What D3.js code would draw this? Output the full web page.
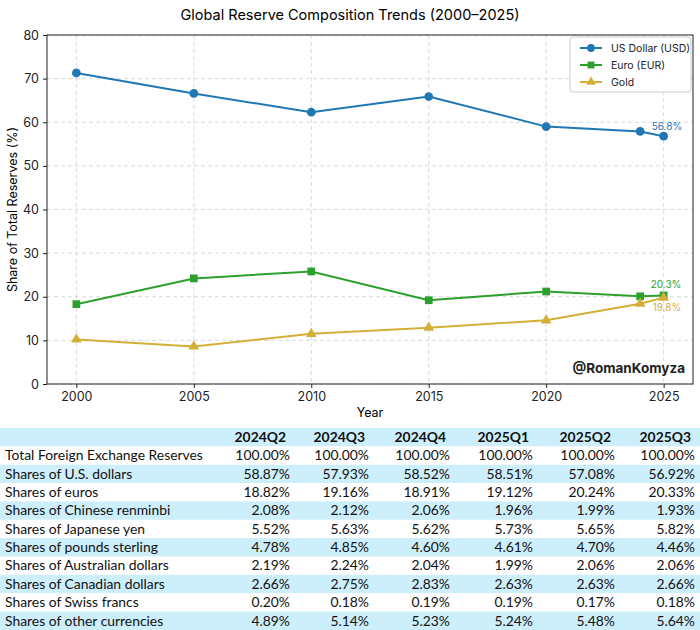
<!DOCTYPE html>
<html>
<head>
<meta charset="utf-8">
<script src="https://cdn.jsdelivr.net/npm/d3@7"></script>
<style>
  body { margin: 0; background: #fff; }
  svg { display: block; }
</style>
</head>
<body>
<div id="chart"></div>
<script>
// chart data
var years = [2000, 2005, 2010, 2015, 2020, 2024, 2025];
var usd = [71.3, 66.6, 62.3, 65.9, 59.0, 57.9, 56.8];
var eur = [18.3, 24.2, 25.8, 19.2, 21.2, 20.1, 20.3];
var gold = [10.2, 8.6, 11.5, 12.9, 14.6, 18.4, 19.8];
var xTicks = [2000, 2005, 2010, 2015, 2020, 2025];
var yTicks = [0, 10, 20, 30, 40, 50, 60, 70, 80];

// table data
var quarters = ["2024Q2", "2024Q3", "2024Q4", "2025Q1", "2025Q2", "2025Q3"];
var rowLabels = [
  "Total Foreign Exchange Reserves",
  "Shares of U.S. dollars",
  "Shares of euros",
  "Shares of Chinese renminbi",
  "Shares of Japanese yen",
  "Shares of pounds sterling",
  "Shares of Australian dollars",
  "Shares of Canadian dollars",
  "Shares of Swiss francs",
  "Shares of other currencies"
];
var rowValues = [
  ["100.00%", "100.00%", "100.00%", "100.00%", "100.00%", "100.00%"],
  ["58.87%", "57.93%", "58.52%", "58.51%", "57.08%", "56.92%"],
  ["18.82%", "19.16%", "18.91%", "19.12%", "20.24%", "20.33%"],
  ["2.08%", "2.12%", "2.06%", "1.96%", "1.99%", "1.93%"],
  ["5.52%", "5.63%", "5.62%", "5.73%", "5.65%", "5.82%"],
  ["4.78%", "4.85%", "4.60%", "4.61%", "4.70%", "4.46%"],
  ["2.19%", "2.24%", "2.04%", "1.99%", "2.06%", "2.06%"],
  ["2.66%", "2.75%", "2.83%", "2.63%", "2.63%", "2.66%"],
  ["0.20%", "0.18%", "0.19%", "0.19%", "0.17%", "0.18%"],
  ["4.89%", "5.14%", "5.23%", "5.24%", "5.48%", "5.64%"]
];

var series = [
  {name: "US Dollar (USD)", values: usd, color: "#1f77b4", marker: "circle", label: "56.8%"},
  {name: "Euro (EUR)", values: eur, color: "#2ca02c", marker: "square", label: "20.3%"},
  {name: "Gold", values: gold, color: "#d4af37", marker: "triangle", label: "19.8%"}
];

var W = 700, H = 630;
var font = "Inter, 'Open Sans', sans-serif";
var tfont = "Lato, 'Open Sans', sans-serif";

svg = d3.select("#chart").append("svg")
  .attr("width", W).attr("height", H)
  .attr("viewBox", `0 0 ${W} ${H}`);

var plot = {left: 47, right: 693, top: 35, bottom: 384};

var x = d3.scaleLinear().domain([1998.75, 2026.25]).range([plot.left, plot.right]);
var y = d3.scaleLinear().domain([0, 80]).range([plot.bottom, plot.top]);

//title
svg.append("text")
  .attr("x", 350).attr("y", 20)
  .attr("text-anchor", "middle")
  .style("font-family", font).style("font-size", "14.5px")
  .text("Global Reserve Composition Trends (2000\u20132025)");

//grid
var g = svg.append("g");
g.selectAll("line.gx").data(xTicks).enter().append("line")
  .attr("x1", d => x(d)).attr("x2", d => x(d))
  .attr("y1", plot.top).attr("y2", plot.bottom)
  .attr("stroke", "#d0d0d0").attr("stroke-dasharray", "4,3").attr("stroke-width", 0.8);
g.selectAll("line.gy").data(yTicks).enter().append("line")
  .attr("y1", d => y(d)).attr("y2", d => y(d))
  .attr("x1", plot.left).attr("x2", plot.right)
  .attr("stroke", "#d0d0d0").attr("stroke-dasharray", "4,3").attr("stroke-width", 0.8);

//axes
var xAxis = svg.append("g")
  .attr("transform", `translate(0,${plot.bottom})`)
  .call(d3.axisBottom(x).tickValues(xTicks).tickFormat(d3.format("d")).tickSize(4).tickSizeOuter(0).tickPadding(4));
var yAxis = svg.append("g")
  .attr("transform", `translate(${plot.left},0)`)
  .call(d3.axisLeft(y).tickValues(yTicks).tickSize(4).tickSizeOuter(0).tickPadding(4));
[xAxis, yAxis].forEach(function(a){
  a.select(".domain").remove();
  a.selectAll("text").style("font-family", font).style("font-size", "12.5px").attr("fill", "#222");
  a.selectAll("line").attr("stroke", "#222");
});

//frame
svg.append("rect")
  .attr("x", plot.left).attr("y", plot.top)
  .attr("width", plot.right - plot.left).attr("height", plot.bottom - plot.top)
  .attr("fill", "none").attr("stroke", "#222").attr("stroke-width", 1);

svg.append("text")
  .attr("x", (plot.left + plot.right) / 2).attr("y", 417)
  .attr("text-anchor", "middle")
  .style("font-family", font).style("font-size", "12.5px")
  .text("Year");
svg.append("text")
  .attr("transform", `translate(17,${(plot.top + plot.bottom) / 2}) rotate(-90)`)
  .attr("text-anchor", "middle")
  .style("font-family", font).style("font-size", "12.5px")
  .text("Share of Total Reserves (%)");

//lines
var line = d3.line().x((d, i) => x(years[i])).y(d => y(d));
var symbols = {circle: d3.symbolCircle, square: d3.symbolSquare, triangle: d3.symbolTriangle};
var symSize = {circle: 60, square: 60, triangle: 50};

series.forEach(function(s){
  svg.append("path")
    .attr("d", line(s.values))
    .attr("fill", "none").attr("stroke", s.color).attr("stroke-width", 2);
  svg.selectAll(null).data(s.values).enter().append("path")
    .attr("transform", (d, i) => `translate(${x(years[i])},${y(d)})`)
    .attr("d", d3.symbol().type(symbols[s.marker]).size(symSize[s.marker]))
    .attr("fill", s.color);
});

//end labels
var last = years.length - 1;
svg.append("text").attr("x", x(years[last]) - 12).attr("y", y(usd[last]) - 6)
  .style("font-family", font).style("font-size", "10px").attr("fill", series[0].color)
  .text(series[0].label);
svg.append("text").attr("x", x(years[last]) - 13).attr("y", y(eur[last]) - 7)
  .style("font-family", font).style("font-size", "10px").attr("fill", series[1].color)
  .text(series[1].label);
svg.append("text").attr("x", x(years[last]) - 11).attr("y", y(gold[last]) + 13)
  .style("font-family", font).style("font-size", "10px").attr("fill", series[2].color)
  .text(series[2].label);

//legend
var lg = svg.append("g").attr("transform", "translate(570,37)");
lg.append("rect").attr("width", 121).attr("height", 55).attr("rx", 3)
  .attr("fill", "#fff").attr("fill-opacity", 0.85).attr("stroke", "#ccc");
series.forEach(function(s, i){
  var ly = 11 + i * 17;
  lg.append("line").attr("x1", 10).attr("x2", 32).attr("y1", ly).attr("y2", ly)
    .attr("stroke", s.color).attr("stroke-width", 2);
  lg.append("path").attr("transform", `translate(21,${ly})`)
    .attr("d", d3.symbol().type(symbols[s.marker]).size(symSize[s.marker] * 0.8))
    .attr("fill", s.color);
  lg.append("text").attr("x", 41).attr("y", ly + 4)
    .style("font-family", font).style("font-size", "10.5px").attr("fill", "#222")
    .text(s.name);
});

//watermark
svg.append("text")
  .attr("x", 685).attr("y", 373)
  .attr("text-anchor", "end")
  .style("font-family", font).style("font-size", "13.5px").style("font-weight", "bold")
  .attr("fill", "#222")
  .text("@RomanKomyza");

//table
var tableTop = 428, rowH = 18.35;
var colRight = [290, 369, 450, 533, 615, 695];
var tg = svg.append("g");
var allRows = [null].concat(rowLabels);
tg.selectAll("rect.band").data(allRows).enter().append("rect")
  .attr("x", 0).attr("width", W)
  .attr("y", (d, i) => tableTop + i * rowH).attr("height", rowH + 0.3)
  .attr("fill", (d, i) => i % 2 === 0 ? "#cdeefb" : "#ffffff");

var labelFont = 14.5;
var labels = tg.selectAll("text.lab").data(rowLabels).enter().append("text")
  .attr("x", 5).attr("y", (d, i) => tableTop + (i + 1) * rowH + 14)
  .style("font-family", tfont).style("font-size", labelFont + "px").attr("fill", "#111")
  .text(d => d);
//fit label font to the picture's width
var w0 = labels.nodes()[0].getComputedTextLength();
labelFont = labelFont * 198 / w0;
labels.style("font-size", labelFont + "px");

quarters.forEach(function(q, j){
  tg.append("text")
    .attr("x", colRight[j] - 4).attr("y", tableTop + 14)
    .attr("text-anchor", "end")
    .style("font-family", tfont).style("font-size", labelFont + "px").style("font-weight", "bold")
    .attr("fill", "#111")
    .text(q);
  rowValues.forEach(function(r, i){
    tg.append("text")
      .attr("x", colRight[j]).attr("y", tableTop + (i + 1) * rowH + 14)
      .attr("text-anchor", "end")
      .style("font-family", tfont).style("font-size", labelFont + "px")
      .attr("fill", "#111")
      .text(r[j]);
  });
});
</script>
</body>
</html>
